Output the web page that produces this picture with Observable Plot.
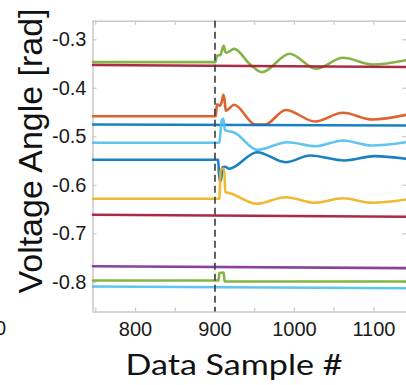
<!DOCTYPE html>
<html>
<head>
<meta charset="utf-8">
<script src="https://cdn.jsdelivr.net/npm/d3@7"></script>
<script src="https://cdn.jsdelivr.net/npm/@observablehq/plot@0.6"></script>
<style>
  html, body { margin: 0; padding: 0; background: #fff; }
  #chart svg { display: block; }
</style>
</head>
<body>
<div id="chart"></div>
<script>
// ---- Text / ticks ----
const xLabel = "Data Sample #";
const yLabel = "Voltage Angle [rad]";
const xTickLabels = [800, 900, 1000, 1100];
const xTickMarks = [750, 800, 850, 900, 950, 1000, 1050, 1100];
const yTickLabels = [-0.8, -0.7, -0.6, -0.5, -0.4, -0.3];
const xDomain = [746.5, 1141];
const yDomain = [-0.8615, -0.2616];
const eventSample = [900];
const strayLabel = ["0"];

// ---- Series: [sample, angle] ----
const green1 = [[746.5,-0.346],[900.5,-0.346],[902.5,-0.333],[907,-0.331],[909.5,-0.318],[911,-0.312],[912.5,-0.322],[914,-0.327],[918,-0.324],[924,-0.3186],[945,-0.352],[959,-0.3668],[994,-0.3289],[1027,-0.3598],[1061,-0.3371],[1099,-0.3509],[1141,-0.342]];
const red1 = [[746.5,-0.352],[1141,-0.356]];
const orange = [[746.5,-0.4576],[901,-0.4576],[902.5,-0.433],[906,-0.436],[908.5,-0.428],[910.5,-0.4134],[912,-0.423],[913.5,-0.446],[917,-0.443],[924,-0.4341],[951,-0.4747],[963,-0.4747],[989,-0.4448],[1026,-0.4685],[1061,-0.4506],[1098,-0.4644],[1141,-0.4547]];
const blue1 = [[746.5,-0.4747],[1141,-0.4768]];
const lightBlue1 = [[746.5,-0.5125],[905.5,-0.5125],[907,-0.49],[908.5,-0.466],[910.5,-0.463],[912.5,-0.486],[916,-0.488],[924,-0.491],[953,-0.527],[991,-0.5112],[1027,-0.5195],[1061,-0.5077],[1097,-0.518],[1141,-0.5112]];
const blue2 = [[746.5,-0.5475],[904,-0.5475],[905,-0.575],[906.5,-0.592],[908,-0.585],[909.5,-0.563],[913,-0.562],[917.5,-0.566],[953,-0.5318],[989,-0.5525],[1020,-0.5387],[1063,-0.549],[1101,-0.54],[1141,-0.5455]];
const yellow = [[746.5,-0.628],[905.5,-0.628],[907,-0.572],[908.5,-0.566],[911.5,-0.566],[913,-0.6144],[918,-0.616],[952,-0.6383],[989,-0.6247],[1026,-0.6362],[1061,-0.6267],[1097,-0.6362],[1141,-0.6294]];
const red2 = [[746.5,-0.661],[1141,-0.665]];
const purple = [[746.5,-0.767],[1141,-0.771]];
const green2 = [[746.5,-0.7965],[904.5,-0.7965],[905.5,-0.781],[911,-0.78],[912,-0.7985],[1141,-0.7985]];
const lightBlue2 = [[746.5,-0.809],[1141,-0.8125]];

const seriesList = [
  ["green1", green1], ["red1", red1], ["orange", orange], ["blue1", blue1],
  ["lightBlue1", lightBlue1], ["blue2", blue2], ["yellow", yellow], ["red2", red2],
  ["purple", purple], ["green2", green2], ["lightBlue2", lightBlue2]
];

// ---- Styles (kept out of the data) ----
const colorOf = {
  green1: "#77AC30", red1: "#A2142F", orange: "#D95319", blue1: "#0072BD",
  lightBlue1: "#4DBEEE", blue2: "#0072BD", yellow: "#EDB120", red2: "#A2142F",
  purple: "#7E2F8E", green2: "#77AC30", lightBlue2: "#4DBEEE"
};

const W = 406, H = 385;
const mL = 92.5, mT = 20.7, mR = 0, mB = 73.5;
const plotW = W - mL - mR, plotH = H - mT - mB;
const frameColor = "#c9c9c9";
const tickFont = "'Liberation Sans', Arial, sans-serif";

const lineMarks = seriesList.map(([name, pts]) =>
  Plot.line(pts, {x: d => d[0], y: d => d[1], stroke: colorOf[name], strokeWidth: 2.6, strokeOpacity: 0.9, curve: "monotone-x"})
);

const chart = Plot.plot({
  width: W, height: H,
  marginLeft: mL, marginTop: mT, marginRight: mR, marginBottom: mB,
  style: {fontFamily: tickFont, fontSize: "20px", background: "#fff", color: "#262626"},
  x: {domain: xDomain},
  y: {domain: yDomain},
  marks: [
    Plot.ruleY([yDomain[1]], {stroke: frameColor, strokeWidth: 1.5}),
    Plot.ruleY([yDomain[0]], {stroke: frameColor, strokeWidth: 1.5}),
    Plot.ruleX([xDomain[0]], {stroke: frameColor, strokeWidth: 1.5}),
    Plot.tickX(xTickMarks, {x: d => d, stroke: frameColor, strokeWidth: 1.2, insetTop: plotH - 4}),
    Plot.tickX(xTickMarks, {x: d => d, stroke: frameColor, strokeWidth: 1.2, insetBottom: plotH - 4}),
    Plot.tickY(yTickLabels, {y: d => d, stroke: frameColor, strokeWidth: 1.2, insetRight: plotW - 4}),
    Plot.tickY(yTickLabels, {y: d => d, stroke: frameColor, strokeWidth: 1.2, insetLeft: plotW - 4}),
    Plot.axisX({ticks: xTickLabels, tickSize: 0, tickPadding: 10, fontSize: 20, label: null, tickFormat: d => String(d), fill: "#1a1a1a"}),
    Plot.axisY({ticks: yTickLabels, tickSize: 0, tickPadding: 6.5, fontSize: 20, label: null, tickFormat: d => d.toFixed(1), fill: "#1a1a1a"}),
    ...lineMarks,
    Plot.ruleX(eventSample, {stroke: "#3a3a3a", strokeWidth: 1.6, strokeDasharray: "7,4"}),
    Plot.text([yLabel], {frameAnchor: "left", rotate: -90, dx: -62, dy: 126.9, fontSize: 33, fill: "#111", fontFamily: tickFont, lineAnchor: "middle", textAnchor: "start"}),
    Plot.text([xLabel], {frameAnchor: "bottom", dx: -15.75, dy: 54.5, fontSize: 28, fill: "#111", fontFamily: "Lato, 'Open Sans', sans-serif", lineAnchor: "middle"}),
    Plot.text(strayLabel, {frameAnchor: "bottom-left", dx: -87, dy: 8.5, fontSize: 20, fill: "#1a1a1a", textAnchor: "end", lineAnchor: "top", fontFamily: tickFont})
  ]
});

// stretch titles to the measured extents
chart.querySelectorAll("text").forEach(t => {
  if (t.textContent === yLabel) { t.setAttribute("textLength", 285); t.setAttribute("lengthAdjust", "spacingAndGlyphs"); }
  if (t.textContent === xLabel) { t.setAttribute("textLength", 217); t.setAttribute("lengthAdjust", "spacingAndGlyphs"); }
});

document.getElementById("chart").appendChild(chart);
</script>
</body>
</html>
